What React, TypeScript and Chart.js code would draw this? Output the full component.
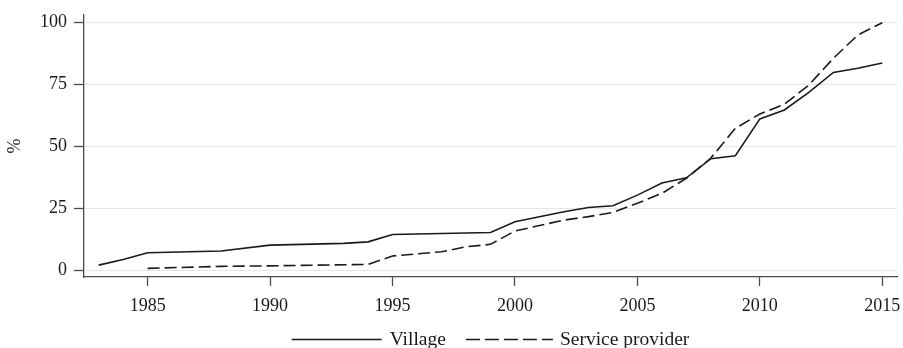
import { useEffect, useRef } from 'react';
import { Chart, registerables } from 'chart.js';

Chart.register(...registerables);

// Share (%) over time, by source of the information
const villageYears = [1983, 1984, 1985, 1988, 1990, 1993, 1994, 1995, 1999, 2000, 2002, 2003, 2004, 2005, 2006, 2007, 2008, 2009, 2010, 2011, 2012, 2013, 2014, 2015];
const villageShare = [2.0, 4.3, 7.0, 7.7, 10.1, 10.8, 11.4, 14.4, 15.2, 19.5, 23.6, 25.3, 26.0, 30.3, 35.2, 37.3, 45.0, 46.2, 61.1, 64.7, 71.8, 79.9, 81.6, 83.7];

const providerYears = [1985, 1988, 1990, 1994, 1995, 1997, 1998, 1999, 2000, 2002, 2003, 2004, 2005, 2006, 2007, 2008, 2009, 2010, 2011, 2012, 2013, 2014, 2015];
const providerShare = [0.7, 1.5, 1.7, 2.3, 5.7, 7.4, 9.4, 10.4, 15.8, 20.2, 21.6, 23.3, 27.0, 31.0, 37.1, 45.3, 57.3, 63.1, 67.0, 74.8, 85.6, 95.0, 100];

const yearTicks = [1985, 1990, 1995, 2000, 2005, 2010, 2015];
const shareTicks = [0, 25, 50, 75, 100];
const seriesLabels = ['Village', 'Service provider'];
const yTitle = '%';

const SERIF = '"Liberation Serif", "Times New Roman", Times, serif';
const INK = '#1a1a1a';
const AXIS = '#4a4a4a';
const GRID = '#e6e6e6';

const PLOT_DASH = [12, 5];
const LEGEND_DASH = [14, 5];

// Draws the rotated y title and a Stata-style legend centred under the plot
const stataDecor = {
  id: 'stataDecor',
  afterDraw(chart: any) {
    const ctx: CanvasRenderingContext2D = chart.ctx;
    const { left, right, top, bottom } = chart.chartArea;

    ctx.save();
    ctx.font = `18px ${SERIF}`;
    ctx.fillStyle = INK;
    ctx.translate(15, (top + bottom) / 2);
    ctx.rotate(-Math.PI / 2);
    ctx.textAlign = 'center';
    ctx.textBaseline = 'middle';
    ctx.fillText(yTitle, 0, 0);
    ctx.restore();

    ctx.save();
    ctx.font = `19.5px ${SERIF}`;
    const sampleLen = [90, 87];
    const sampleGap = [8, 7];
    const itemGap = 20;
    const items = chart.data.datasets.map((ds: any, i: number) => ({
      label: ds.label as string,
      dash: ds.borderDash ? LEGEND_DASH : [],
      len: sampleLen[i],
      gap: sampleGap[i],
      textW: ctx.measureText(ds.label).width,
    }));
    const total = items.reduce((s: number, it: any, i: number) => s + it.len + it.gap + it.textW + (i > 0 ? itemGap : 0), 0);
    let x = (left + right) / 2 - total / 2;
    const y = 339.5;
    ctx.fillStyle = INK;
    ctx.strokeStyle = INK;
    ctx.lineWidth = 1.5;
    ctx.textAlign = 'left';
    ctx.textBaseline = 'middle';
    items.forEach((it: any, i: number) => {
      if (i > 0) x += itemGap;
      ctx.setLineDash(it.dash);
      ctx.beginPath();
      ctx.moveTo(x, y);
      ctx.lineTo(x + it.len, y);
      ctx.stroke();
      x += it.len + it.gap;
      ctx.fillText(it.label, x, y);
      x += it.textW;
    });
    ctx.restore();
  },
};

export default function App() {
  const canvasRef = useRef<HTMLCanvasElement | null>(null);

  useEffect(() => {
    const canvas = canvasRef.current;
    if (!canvas) return;

    const chart = new Chart(canvas, {
      type: 'line',
      data: {
        datasets: [
          {
            label: seriesLabels[0],
            data: villageYears.map((yr, i) => ({ x: yr, y: villageShare[i] })),
            borderColor: INK,
            borderWidth: 1.6,
            pointRadius: 0,
            tension: 0,
            fill: false,
          },
          {
            label: seriesLabels[1],
            data: providerYears.map((yr, i) => ({ x: yr, y: providerShare[i] })),
            borderColor: INK,
            borderWidth: 1.6,
            borderDash: PLOT_DASH,
            pointRadius: 0,
            tension: 0,
            fill: false,
          },
        ],
      },
      options: {
        responsive: false,
        devicePixelRatio: 1,
        animation: false,
        events: [],
        layout: { padding: { top: 15, right: 6, left: 0, bottom: 0 } },
        plugins: {
          legend: { display: false },
          tooltip: { enabled: false },
          title: { display: false },
        },
        scales: {
          x: {
            type: 'linear',
            min: 1982.4,
            max: 2015.6,
            afterBuildTicks: (scale: any) => {
              scale.ticks = yearTicks.map((v) => ({ value: v }));
            },
            afterFit: (scale: any) => {
              scale.height = 71;
              scale.paddingLeft = 0;
              scale.paddingRight = 0;
            },
            ticks: {
              color: INK,
              font: { family: SERIF, size: 18 },
              padding: 9,
              maxRotation: 0,
              autoSkip: false,
              callback: (v: any) => String(v),
            },
            grid: {
              drawOnChartArea: false,
              tickLength: 9,
              tickColor: AXIS,
              tickWidth: 1.3,
            },
            border: { display: true, color: AXIS, width: 1.3 },
          },
          y: {
            type: 'linear',
            min: -2.8,
            max: 103.1,
            afterBuildTicks: (scale: any) => {
              scale.ticks = shareTicks.map((v) => ({ value: v }));
            },
            afterFit: (scale: any) => {
              scale.width = 84;
              scale.paddingTop = 0;
              scale.paddingBottom = 0;
            },
            ticks: {
              color: INK,
              font: { family: SERIF, size: 18 },
              padding: 7,
              autoSkip: false,
              callback: (v: any) => String(v),
            },
            grid: {
              color: GRID,
              lineWidth: 1,
              tickLength: 10,
              tickColor: AXIS,
              tickWidth: 1.3,
            },
            border: { display: true, color: AXIS, width: 1.3 },
          },
        },
      },
      plugins: [stataDecor],
    });

    return () => chart.destroy();
  }, []);

  return (
    <div style={{ position: 'absolute', left: 0, top: 0, width: 903, height: 348, background: '#fff' }}>
      <canvas ref={canvasRef} width={903} height={348} />
    </div>
  );
}
